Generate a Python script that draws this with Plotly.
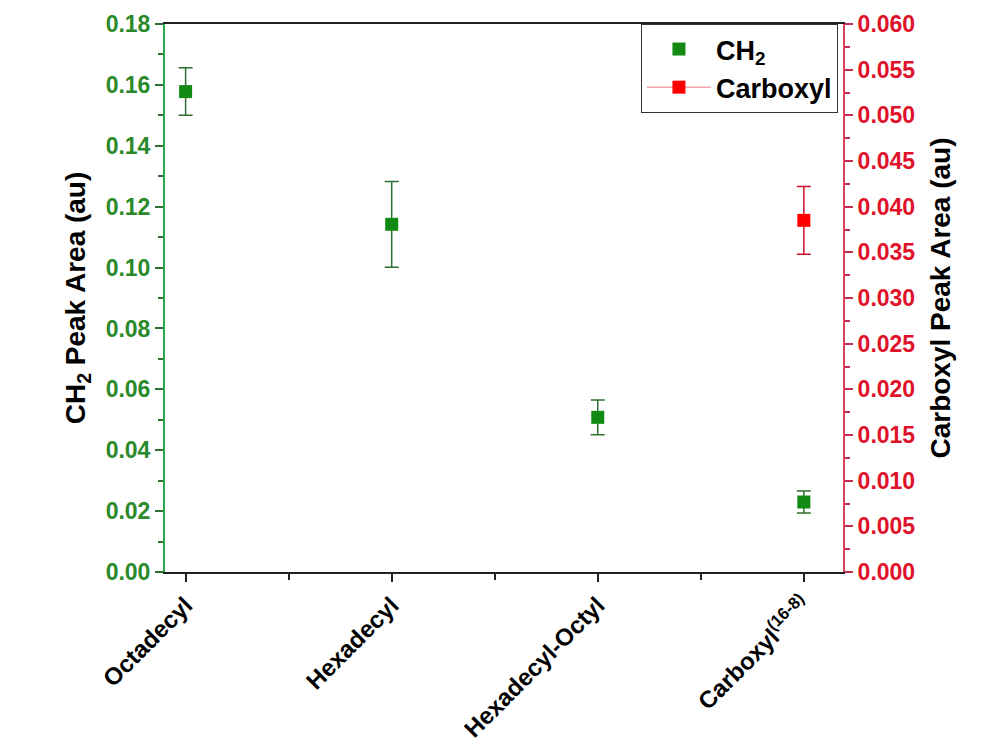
import plotly.graph_objects as go

# Sample groups along the x axis
categories = ["Octadecyl", "Hexadecyl", "Hexadecyl-Octyl", "Carboxyl<sup>(16-8)</sup>"]

# CH2 peak areas (left axis) with standard deviations
ch2_values = [0.1578, 0.1142, 0.0508, 0.0230]
ch2_errors = [0.0078, 0.0141, 0.0057, 0.0036]

# Carboxyl peak area (right axis), only measured for the carboxyl sample
carboxyl_index = [3]
carboxyl_values = [0.0385]
carboxyl_errors = [0.0037]

# Tick values for each axis
left_ticks = [0.00, 0.02, 0.04, 0.06, 0.08, 0.10, 0.12, 0.14, 0.16, 0.18]
right_ticks = [0.000, 0.005, 0.010, 0.015, 0.020, 0.025, 0.030, 0.035,
               0.040, 0.045, 0.050, 0.055, 0.060]

GREEN = "#138a13"
GREEN_TEXT = "#2a8a2a"
RED = "#ff0000"
RED_TEXT = "#e0122a"
FONT = "Arial, Liberation Sans, sans-serif"

x_pos = list(range(len(categories)))

fig = go.Figure()

fig.add_trace(go.Scatter(
    x=x_pos, y=ch2_values, mode="markers", name="CH<sub>2</sub>",
    marker=dict(symbol="square", size=13, color=GREEN),
    error_y=dict(type="data", array=ch2_errors, visible=True,
                 color="#2f6e2f", thickness=1.5, width=7),
    yaxis="y",
))

fig.add_trace(go.Scatter(
    x=[x_pos[i] for i in carboxyl_index], y=carboxyl_values,
    mode="lines+markers", name="Carboxyl",
    marker=dict(symbol="square", size=13, color=RED),
    line=dict(color="#e87a8a", width=1),
    error_y=dict(type="data", array=carboxyl_errors, visible=True,
                 color="#d0102a", thickness=1.5, width=7),
    yaxis="y2",
))

fig.update_layout(
    width=998, height=753,
    margin=dict(l=165, r=155, t=24, b=181),
    paper_bgcolor="white", plot_bgcolor="white",
    font=dict(family=FONT, size=22, color="black"),
    showlegend=True,
    legend=dict(
        x=0.702, y=1.0, xanchor="left", yanchor="top",
        bgcolor="white", bordercolor="#333333", borderwidth=1,
        font=dict(family=FONT, size=27, color="black", weight="bold"),
        tracegroupgap=2, itemwidth=64,
    ),
    xaxis=dict(
        range=[-0.1, 3.19], automargin=False,
        tickmode="array", tickvals=x_pos, ticktext=categories,
        tickangle=-45,
        tickfont=dict(family=FONT, size=24, color="black", weight="bold"),
        showline=True, linecolor="#222222", linewidth=1.5, mirror=True,
        ticks="outside", ticklen=8, tickwidth=1.5, tickcolor="#222222",
        minor=dict(tickvals=[0.5, 1.5, 2.5], ticks="outside", ticklen=6,
                   tickwidth=1.5, tickcolor="#222222"),
        showgrid=False, zeroline=False,
    ),
    yaxis=dict(
        range=[0, 0.18], automargin=False,
        tickmode="array", tickvals=left_ticks, tickformat=".2f",
        tickfont=dict(family=FONT, size=23, color=GREEN_TEXT, weight="bold"),
        title=dict(text="CH<sub>2</sub> Peak Area (au)", standoff=12,
                   font=dict(family=FONT, size=28, color="black", weight="bold")),
        showline=True, linecolor="#2aa84a", linewidth=2,
        ticks="outside", ticklen=8, tickwidth=1.5, tickcolor="#2f6e2f",
        minor=dict(dtick=0.01, tick0=0, ticks="outside", ticklen=5,
                   tickwidth=1.5, tickcolor="#2f6e2f"),
        showgrid=False, zeroline=False,
    ),
    yaxis2=dict(
        range=[0, 0.06], overlaying="y", side="right", automargin=False,
        tickmode="array", tickvals=right_ticks, tickformat=".3f",
        tickfont=dict(family=FONT, size=23, color=RED_TEXT, weight="bold"),
        title=dict(text="Carboxyl Peak Area (au)", standoff=16,
                   font=dict(family=FONT, size=28, color="black", weight="bold")),
        showline=True, linecolor="#d9405a", linewidth=2,
        ticks="outside", ticklen=8, tickwidth=1.5, tickcolor="#c0304a",
        minor=dict(dtick=0.0025, tick0=0, ticks="outside", ticklen=5,
                   tickwidth=1.5, tickcolor="#c0304a"),
        showgrid=False, zeroline=False,
    ),
)

fig.write_html("out.html")
